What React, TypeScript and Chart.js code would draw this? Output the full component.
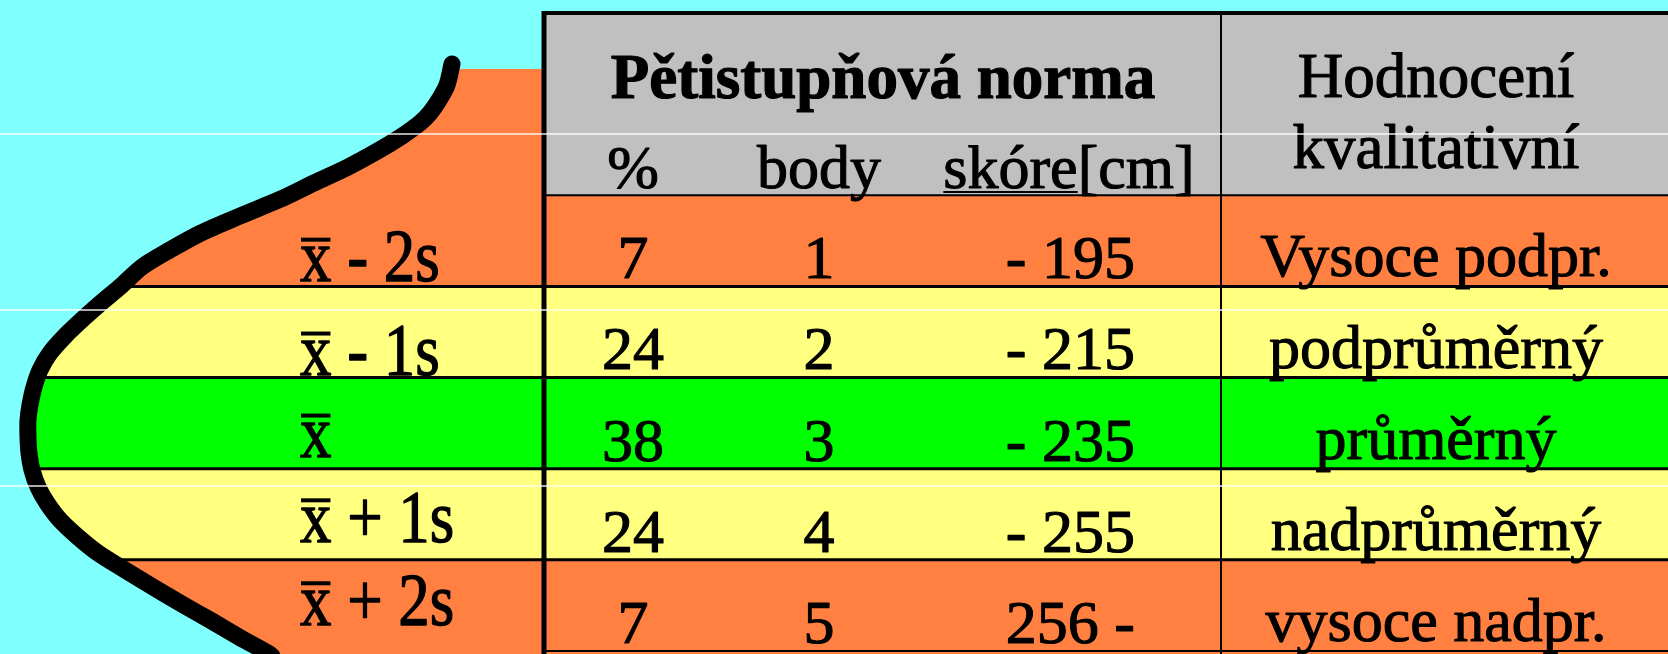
import React, { useEffect, useRef } from 'react';
import { Chart, registerables } from 'chart.js';

Chart.register(...registerables);

// ---- table content ----
const rowLabelSuffixes = [' - 2s', ' - 1s', '', ' + 1s', ' + 2s'];
const percentValues = [7, 24, 38, 24, 7];
const pointValues = [1, 2, 3, 4, 5];
const scoreLabels = ['- 195', '- 215', '- 235', '- 255', '256 -'];
const ratingLabels = ['Vysoce podpr.', 'podprůměrný', 'průměrný', 'nadprůměrný', 'vysoce nadpr.'];
const bandColors = ['#FF8040', '#FFFF80', '#00FF00', '#FFFF80', '#FF8040'];
const headerTitle = 'Pětistupňová norma';
const subHeaders = ['%', 'body', 'skóre[cm]'];
const ratingHeader = ['Hodnocení', 'kvalitativní'];

// ---- bell curve (x: horizontal units, y: row units, 0 = table top) ----
const curveX = [452, 447, 439, 430, 420, 402, 376, 348, 314, 279, 240, 201, 170, 142, 120, 102, 85, 66, 50, 40, 34, 30, 28, 28, 29, 32, 38, 47, 60, 78, 98, 125, 153, 182, 210, 239, 268, 272];
const curveY = [0.56, 0.79, 0.955, 1.097, 1.207, 1.35, 1.525, 1.69, 1.865, 2.05, 2.227, 2.414, 2.6, 2.787, 3.006, 3.171, 3.336, 3.533, 3.731, 3.917, 4.104, 4.301, 4.466, 4.652, 4.828, 5.014, 5.201, 5.376, 5.563, 5.749, 5.925, 6.111, 6.298, 6.485, 6.66, 6.847, 7.022, 7.055];

// label baselines per row (row units)
const labelBaselines = [2.94, 3.97, 4.87, 5.8, 6.71];
// scanner artefact lines (row units)
const scanLines = [1.328, 3.259, 5.19];

const CYAN = '#80FFFF';
const GRAY = '#C0C0C0';
const FONT = '"Liberation Serif", "Times New Roman", serif';

const X_MIN = 0, X_MAX = 1668;
const Y_MIN = -0.1426, Y_MAX = 7.033;
const TABLE_LEFT = 544, COL_SEP = 1221;
const PCT_CENTER = 633, BODY_CENTER = 819, SCORE_RIGHT = 1135, SCORE_HEAD_CENTER = 1069;
const NORM_CENTER = 883, RATING_CENTER = 1436, LABEL_LEFT = 300;
const BAND1_TOP = 0.614;

function drawText(ctx: CanvasRenderingContext2D, s: string, x: number, y: number, font: string, align: CanvasTextAlign, sx = 1, heavy = 1.1) {
  ctx.save();
  ctx.font = font;
  ctx.textAlign = align;
  ctx.textBaseline = 'alphabetic';
  ctx.fillStyle = '#000';
  ctx.strokeStyle = '#000';
  ctx.lineWidth = heavy;
  ctx.lineJoin = 'round';
  ctx.translate(x, y);
  ctx.scale(sx, 1);
  ctx.fillText(s, 0, 0);
  if (heavy > 0) ctx.strokeText(s, 0, 0);
  ctx.restore();
}

const tablePlugin = {
  id: 'tablePlugin',
  beforeDraw(chart: any) {
    const ctx = chart.ctx;
    ctx.save();
    ctx.fillStyle = CYAN;
    ctx.fillRect(0, 0, chart.width, chart.height);
    ctx.restore();
  },
  beforeDatasetsDraw(chart: any) {
    const ctx: CanvasRenderingContext2D = chart.ctx;
    const X = (v: number) => chart.scales.x.getPixelForValue(v);
    const Y = (v: number) => chart.scales.y.getPixelForValue(v);
    ctx.save();
    bandColors.forEach((c, i) => {
      const top = i === 0 ? BAND1_TOP : 2 + i;
      const bot = i === bandColors.length - 1 ? Y_MAX : 3 + i;
      ctx.fillStyle = c;
      ctx.fillRect(X(X_MIN), Y(top), X(X_MAX) - X(X_MIN), Y(bot) - Y(top));
    });
    ctx.strokeStyle = '#000';
    ctx.lineWidth = 3;
    for (let r = 3; r <= 6; r++) {
      ctx.beginPath();
      ctx.moveTo(X(X_MIN), Y(r));
      ctx.lineTo(X(X_MAX), Y(r));
      ctx.stroke();
    }
    ctx.restore();
  },
  afterDatasetsDraw(chart: any) {
    const ctx: CanvasRenderingContext2D = chart.ctx;
    const X = (v: number) => chart.scales.x.getPixelForValue(v);
    const Y = (v: number) => chart.scales.y.getPixelForValue(v);
    ctx.save();
    // header
    ctx.fillStyle = GRAY;
    ctx.fillRect(X(TABLE_LEFT), Y(0), X(X_MAX) - X(TABLE_LEFT), Y(2) - Y(0));
    ctx.strokeStyle = '#000';
    ctx.lineWidth = 2;
    [2, 7].forEach((r) => {
      ctx.beginPath();
      ctx.moveTo(X(TABLE_LEFT), Y(r));
      ctx.lineTo(X(X_MAX), Y(r));
      ctx.stroke();
    });
    // column separator
    ctx.beginPath();
    ctx.moveTo(X(COL_SEP), Y(0));
    ctx.lineTo(X(COL_SEP), Y(Y_MAX));
    ctx.stroke();
    // top border
    ctx.lineWidth = 4;
    ctx.beginPath();
    ctx.moveTo(X(TABLE_LEFT) - 2, Y(0));
    ctx.lineTo(X(X_MAX), Y(0));
    ctx.stroke();
    // left border
    ctx.lineWidth = 5;
    ctx.beginPath();
    ctx.moveTo(X(TABLE_LEFT), Y(0) - 2);
    ctx.lineTo(X(TABLE_LEFT), Y(Y_MAX));
    ctx.stroke();

    // header texts
    drawText(ctx, headerTitle, X(NORM_CENTER), Y(0.933), `bold 63px ${FONT}`, 'center', 1, 1.2);
    const subX = [PCT_CENTER, BODY_CENTER, SCORE_HEAD_CENTER];
    subHeaders.forEach((s, i) => drawText(ctx, s, X(subX[i]), Y(1.92), `62px ${FONT}`, 'center'));
    // underline of "skóre"
    ctx.font = `62px ${FONT}`;
    const fullW = ctx.measureText(subHeaders[2]).width;
    const skW = ctx.measureText('skóre').width;
    const ulStart = X(SCORE_HEAD_CENTER) - fullW / 2;
    ctx.strokeStyle = '#000';
    ctx.lineWidth = 2;
    ctx.beginPath();
    ctx.moveTo(ulStart, Y(1.964));
    ctx.lineTo(ulStart + skW, Y(1.964));
    ctx.stroke();
    drawText(ctx, ratingHeader[0], X(RATING_CENTER), Y(0.92), `63px ${FONT}`, 'center');
    drawText(ctx, ratingHeader[1], X(RATING_CENTER), Y(1.7), `63px ${FONT}`, 'center');

    // rows
    for (let i = 0; i < 5; i++) {
      const base = 3 + i - 0.09;
      drawText(ctx, String(percentValues[i]), X(PCT_CENTER), Y(base), `62px ${FONT}`, 'center');
      drawText(ctx, String(pointValues[i]), X(BODY_CENTER), Y(base), `62px ${FONT}`, 'center');
      drawText(ctx, scoreLabels[i], X(SCORE_RIGHT), Y(base), `62px ${FONT}`, 'right');
      drawText(ctx, ratingLabels[i], X(RATING_CENTER), Y(3 + i - 0.11), `62px ${FONT}`, 'center');

      // row label: x with overline + suffix
      const lfs = 74, sx = 0.85;
      const lb = Y(labelBaselines[i]);
      const lx = X(LABEL_LEFT);
      ctx.font = `${lfs}px ${FONT}`;
      const xw = ctx.measureText('x').width * sx;
      drawText(ctx, 'x', lx, lb, `${lfs}px ${FONT}`, 'left', sx, 1.3);
      ctx.fillStyle = '#000';
      ctx.fillRect(lx + 1, lb - 0.585 * lfs, xw - 2, 4);
      if (rowLabelSuffixes[i]) drawText(ctx, rowLabelSuffixes[i], lx + xw, lb, `${lfs}px ${FONT}`, 'left', sx, 1.3);
    }

    // scanner artefacts
    ctx.strokeStyle = 'rgba(255,255,255,0.9)';
    ctx.lineWidth = 1.5;
    scanLines.forEach((v) => {
      ctx.beginPath();
      ctx.moveTo(X(X_MIN), Y(v));
      ctx.lineTo(X(X_MAX), Y(v));
      ctx.stroke();
    });
    ctx.restore();
  },
};

export default function App() {
  const ref = useRef<HTMLCanvasElement>(null);
  useEffect(() => {
    document.body.style.margin = '0';
    const chart = new Chart(ref.current as HTMLCanvasElement, {
      type: 'line',
      data: {
        datasets: [
          {
            data: curveX.map((x, i) => ({ x, y: curveY[i] })),
            borderColor: '#000',
            borderWidth: 17,
            borderCapStyle: 'round',
            borderJoinStyle: 'round',
            backgroundColor: CYAN,
            fill: { value: X_MIN },
            pointRadius: 0,
            tension: 0.3,
          } as any,
        ],
      },
      options: {
        indexAxis: 'y',
        animation: false,
        responsive: false,
        devicePixelRatio: 1,
        layout: { padding: 0 },
        plugins: { legend: { display: false }, tooltip: { enabled: false } },
        scales: {
          x: { type: 'linear', min: X_MIN, max: X_MAX, display: false },
          y: { type: 'linear', min: Y_MIN, max: Y_MAX, reverse: true, display: false },
        },
      } as any,
      plugins: [tablePlugin],
    });
    return () => chart.destroy();
  }, []);
  return (
    <div style={{ position: 'fixed', left: 0, top: 0, width: 1668, height: 654 }}>
      <canvas ref={ref} width={1668} height={654} style={{ display: 'block' }} />
    </div>
  );
}
